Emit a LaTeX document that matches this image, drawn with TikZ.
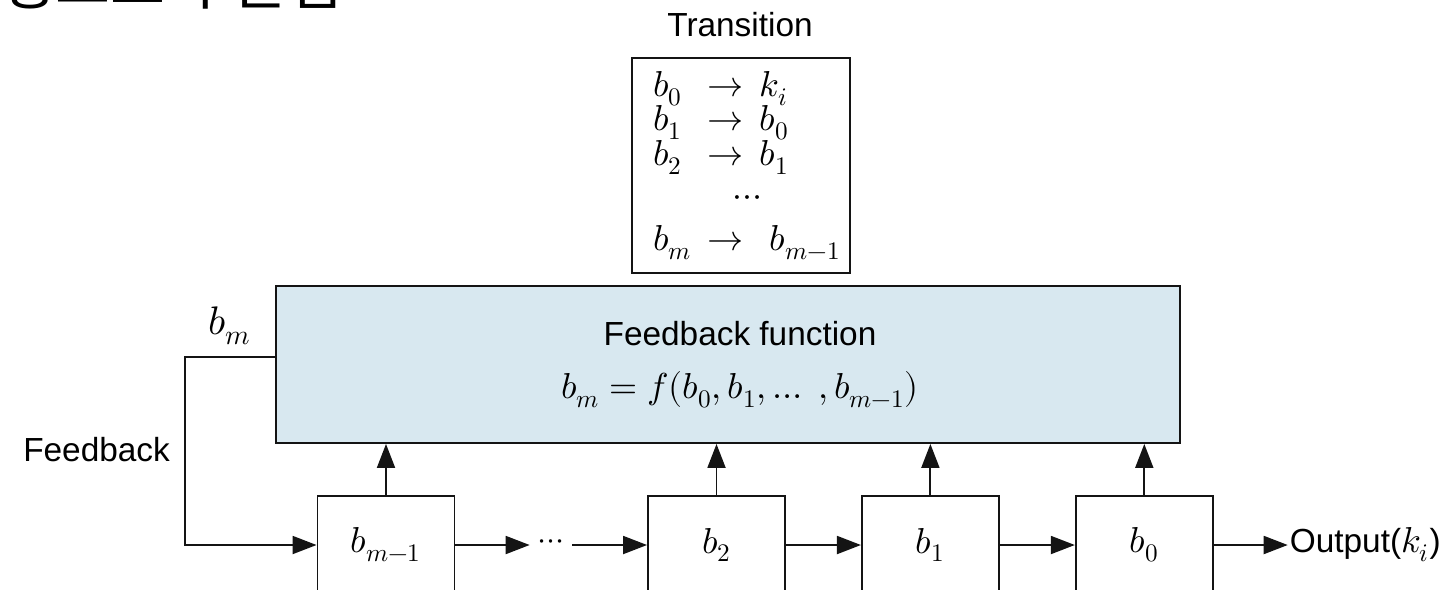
\documentclass[tikz,border=0pt]{standalone}
\usepackage{fontspec}
\usepackage{unicode-math}
\setmainfont{Liberation Sans}
\setmathfont{Latin Modern Math}[Scale=1.08]
\newfontfamily\kofont{Noto Sans CJK KR}
\usetikzlibrary{arrows.meta,positioning}
\definecolor{lfsrBlue}{RGB}{216,232,240}
\definecolor{lfsrLine}{RGB}{20,20,20}
\tikzset{
  plainbox/.style={
    rectangle, draw=lfsrLine, line width=1.1pt, fill=white,
    inner sep=0pt, align=center},
  regbox/.style={
    plainbox, minimum width=2.74cm, minimum height=1.96cm},
  funcbox/.style={
    plainbox, fill=lfsrBlue, minimum width=18.08cm, minimum height=3.14cm},
  tag/.style={inner sep=1pt},
  arrowline/.style={-{Triangle[length=0.48cm,width=0.36cm]}, line width=1.1pt, draw=lfsrLine}
}

\begin{document}
\begin{tikzpicture}[x=0.02cm, y=-0.02cm, node distance=1.5cm, font=\fontsize{19}{23}\selectfont]
        \clip (0,0) rectangle (1452,589);

        % heading, cut off by the page edge
        \node[anchor=base west, inner sep=0pt, font=\kofont\fontsize{34}{40}\selectfont] (head) at (-55,4) {선형으로 구분됨};

        \node[tag] (translabel) at (740,25) {Transition};
        \node[plainbox, minimum width=4.36cm, minimum height=4.3cm] (trans) at (741,165.5)
          {\hspace*{0.24cm}\def\arraystretch{0.8}$\begin{array}{@{}l@{\;\,}c@{\;\,}l@{}}
            b_0 & \rightarrow & k_i\\
            b_1 & \rightarrow & b_0\\
            b_2 & \rightarrow & b_1\\[5pt]
            \multicolumn{3}{c}{\cdots}\\[5pt]
            b_m & \rightarrow & \;b_{m-1}
          \end{array}$};

        \node[funcbox] (ffbox) at (728,364.5)
          {\hspace*{0.48cm}Feedback function\\[7pt]
           \hspace*{0.48cm}$b_m = f(b_0, b_1, \ldots\ , b_{m-1})$};

        \node[regbox] (bm1) at (386,545) {$b_{m-1}$};
        \node[inner sep=0pt, minimum width=0.84cm, font=\fontsize{17}{20}\selectfont] (gap) at (551,545) {$\cdots$};
        \node[regbox] (b2) at (716.5,545) {$b_2$};
        \node[regbox, right=of b2] (b1) {$b_1$};
        \node[regbox, right=of b1] (b0) {$b_0$};
        \node[tag, right=1.48cm of b0] (out) {Output($k_i$)};

        \node[tag, font=\fontsize{21}{25}\selectfont] (bmlabel) at (230,326) {$b_m$};
        \node[tag, anchor=east] (fblabel) at (172,450) {Feedback};

        \coordinate (fbx) at (185,0);

        \draw[arrowline] ([yshift=0.15cm]ffbox.west) -| (fbx |- bm1.west) -- (bm1.west);
        \draw[arrowline] (bm1.east) -- (gap.west);
        \draw[arrowline] (gap.east) -- (b2.west);
        \draw[arrowline] (b2) -- (b1);
        \draw[arrowline] (b1) -- (b0);
        \draw[arrowline] (b0) -- (out);
        \foreach \r in {bm1,b2,b1,b0}
          \draw[arrowline] (\r.north) -- (\r.north |- ffbox.south);
      \end{tikzpicture}
\end{document}
